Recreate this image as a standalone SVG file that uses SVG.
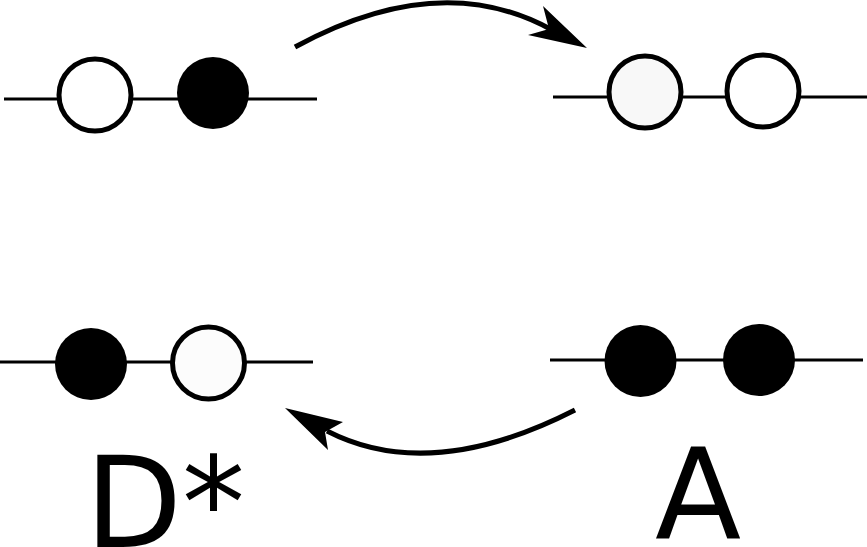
<svg xmlns="http://www.w3.org/2000/svg" width="867" height="547" viewBox="0 0 867 547">
<style>
.ln{stroke:#000;stroke-width:3;fill:none}
.c{stroke:#000;stroke-width:5}
.arr{stroke:#000;stroke-width:5;fill:none}
.lbl{font-family:"DejaVu Sans",sans-serif;font-size:126px;fill:#000}
</style>
<rect width="867" height="547" fill="#fff"/>
<g id="connectors">
<path class="arr" d="M295,47 Q440,-32 552,30"/>
<polygon points="543,6 587,48 528,35 549,29" fill="#000"/>
<path class="arr" d="M575,410 Q430,484 327,431"/>
<polygon points="285,408 343,422 325,432 328,450" fill="#000"/>
</g>
<g id="node-top-left">
<line class="ln" x1="4" y1="99" x2="317" y2="99"/>
<circle class="c" cx="95" cy="95" r="36" fill="#fff"/>
<circle cx="213" cy="93" r="36" fill="#000"/>
</g>
<g id="node-top-right">
<line class="ln" x1="553" y1="97" x2="867" y2="97"/>
<circle class="c" cx="645" cy="92" r="36" fill="#f8f8f8"/>
<circle class="c" cx="763" cy="91" r="36" fill="#fff"/>
</g>
<g id="node-bottom-left">
<line class="ln" x1="0" y1="362" x2="313" y2="362"/>
<circle cx="91" cy="364" r="36" fill="#000"/>
<circle class="c" cx="208.5" cy="363" r="36" fill="#fcfcfc"/>
<text class="lbl" x="85" y="547">D*</text>
</g>
<g id="node-bottom-right">
<line class="ln" x1="550" y1="360" x2="863" y2="360"/>
<circle cx="640.5" cy="361" r="36" fill="#000"/>
<circle cx="759" cy="360" r="36" fill="#000"/>
<text class="lbl" x="655" y="539">A</text>
</g>
</svg>
